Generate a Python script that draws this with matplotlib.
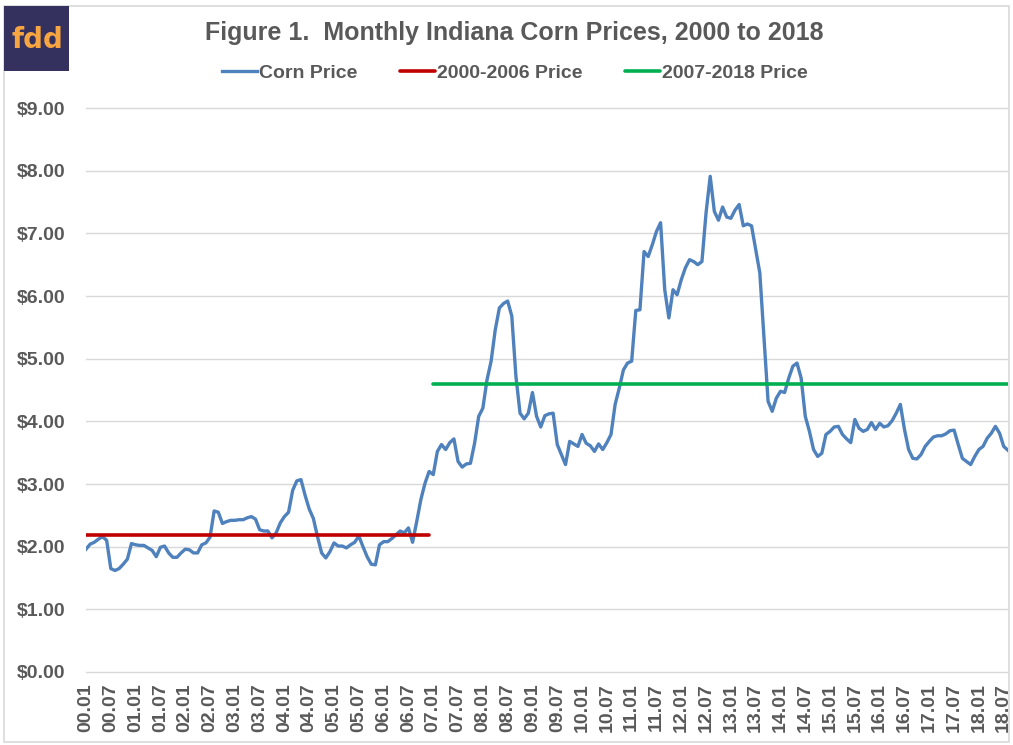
import matplotlib
matplotlib.use('Agg')
import matplotlib.pyplot as plt
from matplotlib.patches import Rectangle

# Monthly Indiana corn price, 2000.01 - 2018.08 ($/bu)
years = list(range(2000, 2019))
corn_price = [
    1.96, 2.04, 2.07, 2.12, 2.16, 2.10, 1.65, 1.62, 1.65, 1.72, 1.80, 2.05,   # 2000
    2.03, 2.02, 2.02, 1.98, 1.94, 1.84, 1.99, 2.01, 1.90, 1.83, 1.83, 1.90,   # 2001
    1.96, 1.95, 1.90, 1.90, 2.03, 2.06, 2.15, 2.57, 2.55, 2.37, 2.40, 2.42,   # 2002
    2.42, 2.43, 2.43, 2.46, 2.48, 2.44, 2.27, 2.25, 2.25, 2.14, 2.22, 2.38,   # 2003
    2.48, 2.55, 2.90, 3.05, 3.07, 2.82, 2.60, 2.45, 2.16, 1.90, 1.82, 1.92,   # 2004
    2.06, 2.01, 2.01, 1.98, 2.03, 2.07, 2.17, 2.00, 1.84, 1.72, 1.71, 2.03,   # 2005
    2.08, 2.08, 2.13, 2.19, 2.25, 2.22, 2.30, 2.07, 2.40, 2.75, 3.01, 3.20,   # 2006
    3.15, 3.52, 3.63, 3.55, 3.66, 3.72, 3.36, 3.27, 3.32, 3.33, 3.65, 4.08,   # 2007
    4.21, 4.66, 4.96, 5.46, 5.81, 5.88, 5.92, 5.68, 4.72, 4.13, 4.04, 4.13,   # 2008
    4.46, 4.08, 3.91, 4.09, 4.12, 4.13, 3.63, 3.47, 3.31, 3.68, 3.64, 3.60,   # 2009
    3.79, 3.65, 3.61, 3.52, 3.64, 3.55, 3.66, 3.79, 4.27, 4.53, 4.82, 4.93,   # 2010
    4.96, 5.77, 5.78, 6.71, 6.63, 6.82, 7.03, 7.17, 6.10, 5.65, 6.10, 6.02,   # 2011
    6.26, 6.45, 6.58, 6.55, 6.50, 6.55, 7.33, 7.91, 7.35, 7.21, 7.42, 7.26,   # 2012
    7.24, 7.37, 7.46, 7.12, 7.15, 7.12, 6.75, 6.37, 5.35, 4.32, 4.16, 4.37,   # 2013
    4.48, 4.46, 4.69, 4.88, 4.93, 4.69, 4.08, 3.84, 3.55, 3.44, 3.49, 3.79,   # 2014
    3.84, 3.91, 3.92, 3.79, 3.72, 3.66, 4.03, 3.89, 3.84, 3.87, 3.98, 3.87,   # 2015
    3.97, 3.91, 3.93, 4.01, 4.13, 4.27, 3.87, 3.55, 3.41, 3.40, 3.47, 3.60,   # 2016
    3.68, 3.75, 3.77, 3.77, 3.80, 3.85, 3.86, 3.63, 3.41, 3.36, 3.31, 3.44,   # 2017
    3.55, 3.60, 3.73, 3.81, 3.92, 3.81, 3.60, 3.54,                           # 2018
]
avg_2000_2006 = 2.18
avg_2007_2018 = 4.60

# tick labels every 6 months like "00.01", "00.07"
tick_pos = list(range(0, len(corn_price), 6))
tick_labels = [f"{(i // 12) % 100:02d}.{i % 12 + 1:02d}" for i in tick_pos]

n_early = 7 * 12  # months 2000-2006
x_all = list(range(len(corn_price)))

text_gray = '#595959'
plt.rcParams['font.family'] = ['Liberation Sans', 'DejaVu Sans']

fig = plt.figure(figsize=(10.13, 7.45), dpi=100)
ax = fig.add_axes([0.0849, 0.098, 0.910, 0.757])

ax.plot(x_all, corn_price, color='#4f81bd', lw=2.4, label='Corn Price', zorder=3,
        solid_joinstyle='round')
ax.plot([0, n_early - 1], [avg_2000_2006] * 2, color='#c00000', lw=2.6,
        label='2000-2006 Price', zorder=4, solid_capstyle='round')
ax.plot([n_early, len(corn_price) - 1], [avg_2007_2018] * 2, color='#00b050', lw=2.6,
        label='2007-2018 Price', zorder=4, solid_capstyle='round')

ax.set_xlim(0, len(corn_price) - 1)
ax.set_ylim(0, 9)
ax.set_yticks(range(0, 10))
ax.set_yticklabels([f"${v:.2f}" for v in range(0, 10)])
ax.set_xticks(tick_pos)
ax.set_xticklabels(tick_labels, rotation=90)
ax.tick_params(axis='y', length=0, pad=15, labelsize=14, labelcolor=text_gray)
ax.tick_params(axis='x', length=0, pad=8, labelsize=14, labelcolor=text_gray)
for lab in ax.get_xticklabels() + ax.get_yticklabels():
    lab.set_fontweight('bold')

ax.grid(axis='y', color='#d9d9d9', lw=1.0)
for gl in ax.get_ygridlines():
    gl.set_clip_on(False)
ax.set_axisbelow(True)
for s in ax.spines.values():
    s.set_visible(False)

fig.text(0.508, 0.956, 'Figure 1.  Monthly Indiana Corn Prices, 2000 to 2018',
         ha='center', va='center', fontsize=18, fontweight='bold', color=text_gray)

leg = fig.legend(loc='center', bbox_to_anchor=(0.508, 0.902), ncol=3, frameon=False,
                 handlelength=1.8, handletextpad=0.1, columnspacing=2.2,
                 prop={'size': 14, 'weight': 'bold'})
for t in leg.get_texts():
    t.set_color(text_gray)

# chart border and logo
fig.patches.append(Rectangle((0.004, 0.004), 0.992, 0.988, transform=fig.transFigure,
                             fill=False, edgecolor='#d9d9d9', lw=1.2))
fig.patches.append(Rectangle((4 / 1013, 1 - 71 / 745), 65 / 1013, 65 / 745,
                             transform=fig.transFigure, facecolor='#34315e',
                             edgecolor='none', zorder=5))
fig.text(37 / 1013, 1 - 40 / 745, 'fdd', ha='center', va='center', fontsize=20,
         fontweight='bold', color='#f7a541', family='DejaVu Sans', zorder=6)

fig.savefig('out.png', dpi=100)
